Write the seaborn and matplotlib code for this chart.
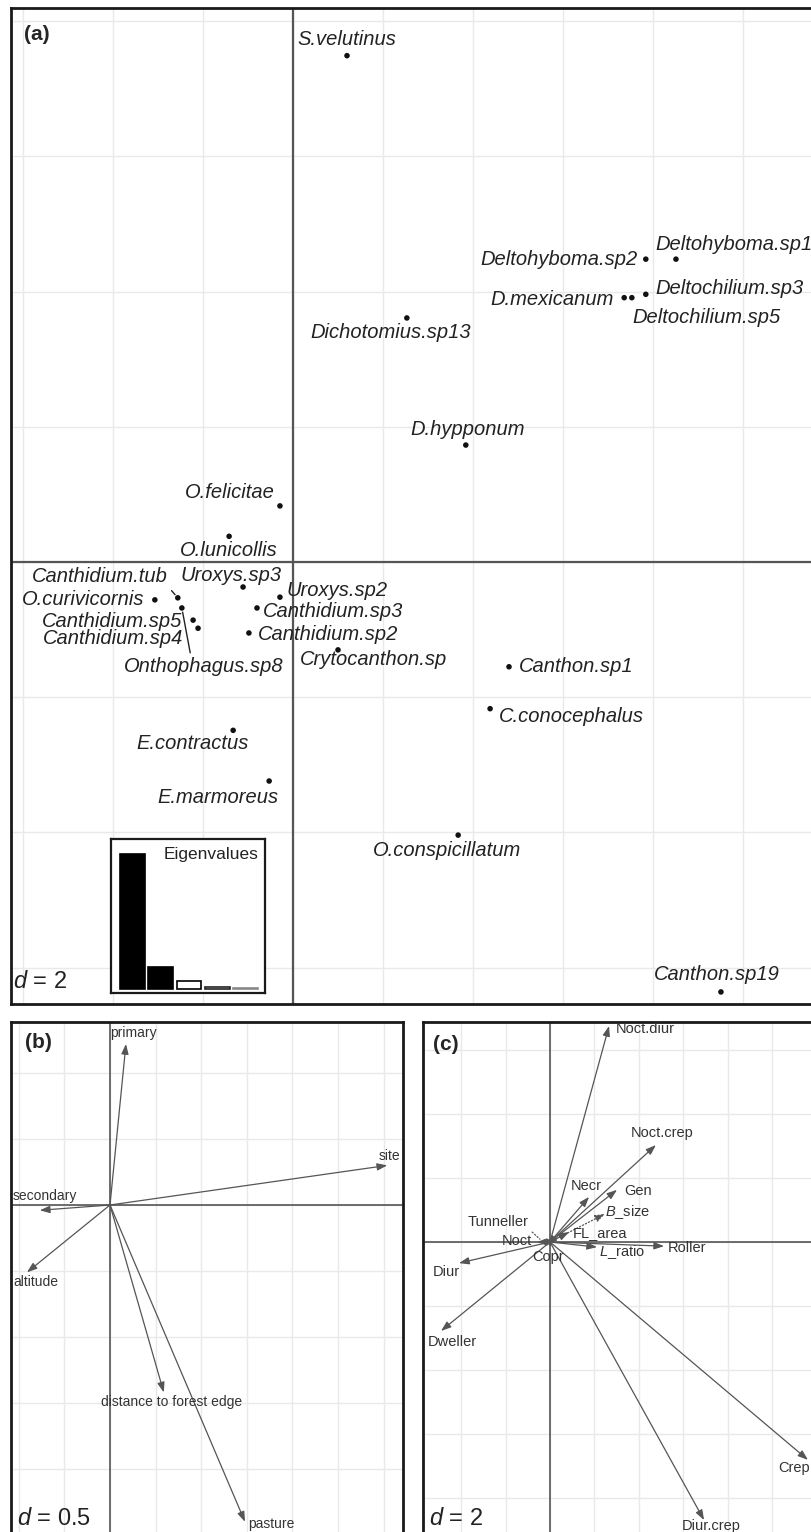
import matplotlib
matplotlib.use("Agg")
import matplotlib.pyplot as plt
import seaborn as sns
import pandas as pd
import numpy as np

sns.set_style("white")
plt.rcParams["font.family"] = ["Liberation Sans", "DejaVu Sans"]
plt.rcParams["mathtext.fontset"] = "custom"
plt.rcParams["mathtext.it"] = "Liberation Sans:italic"
plt.rcParams["mathtext.rm"] = "Liberation Sans"

# ---------------- data ----------------
species = ["S.velutinus", "Deltohyboma.sp1", "Deltohyboma.sp2", "Deltochilium.sp3",
           "D.mexicanum", "Deltochilium.sp5", "Dichotomius.sp13", "O.felicitae",
           "D.hypponum", "O.lunicollis", "Canthidium.tub", "Uroxys.sp3", "Uroxys.sp2",
           "O.curivicornis", "Onthophagus.sp8", "Canthidium.sp5", "Canthidium.sp4",
           "Canthidium.sp3", "Canthidium.sp2", "Crytocanthon.sp", "Canthon.sp1",
           "C.conocephalus", "E.contractus", "E.marmoreus", "O.conspicillatum",
           "Canthon.sp19"]
sp_x = [1.20, 8.51, 7.84, 7.84, 7.36, 7.53, 2.53, -0.29, 3.84, -1.42, -2.56, -1.11,
        -0.29, -3.07, -2.47, -2.22, -2.11, -0.80, -0.98, 1.00, 4.80, 4.38, -1.33,
        -0.53, 3.67, 9.51]
sp_y = [7.49, 4.48, 4.48, 3.96, 3.91, 3.91, 3.61, 0.83, 1.73, 0.38, -0.53, -0.37,
        -0.52, -0.56, -0.68, -0.86, -0.98, -0.68, -1.05, -1.30, -1.55, -2.17, -2.49,
        -3.24, -4.04, -6.36]

eigenvalues = [1.0, 0.163, 0.06, 0.012, 0.006]

env_vars = ["primary", "site", "secondary", "altitude", "distance to forest edge", "pasture"]
env_x = [0.175, 3.04, -0.77, -0.91, 0.59, 1.48]
env_y = [1.22, 0.30, -0.04, -0.51, -1.42, -2.40]

trait_vars = ["Noct.diur", "Noct.crep", "Necr", "Gen", "$B$_size", "FL_area", "$L$_ratio",
              "Roller", "Tunneller", "Noct", "Copr", "Diur", "Dweller", "Crep", "Diur.crep"]
trait_x = [2.66, 4.77, 1.76, 3.02, 2.48, 0.86, 2.12, 5.14, -0.41, -0.59, -0.14, -4.10,
           -4.91, 11.62, 6.94]
trait_y = [6.75, 3.03, 1.41, 1.63, 0.88, 0.31, -0.16, -0.13, 0.06, 0.0, -0.09, -0.66,
           -2.78, -6.81, -8.69]
trait_dotted = [False, False, False, False, True, False, False, False, True, False,
                False, False, False, False, False]

# ---------------- style: label offsets (pixels) ----------------
sp_lab = {
    "S.velutinus": (0, 16, "center"), "Deltohyboma.sp1": (-21, 15, "left"),
    "Deltohyboma.sp2": (-8, 0, "right"), "Deltochilium.sp3": (10, 6, "left"),
    "D.mexicanum": (-10, -2, "right"), "Deltochilium.sp5": (1, -20, "left"),
    "Dichotomius.sp13": (-16, -15, "center"), "O.felicitae": (-5, 13, "right"),
    "D.hypponum": (2, 16, "center"), "O.lunicollis": (0, -14, "center"),
    "Canthidium.tub": (-10, 21, "right"), "Uroxys.sp3": (-12, 12, "center"),
    "Uroxys.sp2": (7, 7, "left"), "O.curivicornis": (-10, 0, "right"),
    "Onthophagus.sp8": (22, -59, "center"), "Canthidium.sp5": (-11, -1, "right"),
    "Canthidium.sp4": (-15, -10, "right"), "Canthidium.sp3": (6, -4, "left"),
    "Canthidium.sp2": (9, -2, "left"), "Crytocanthon.sp": (-38, -10, "left"),
    "Canthon.sp1": (10, 0, "left"), "C.conocephalus": (9, -8, "left"),
    "E.contractus": (-41, -13, "center"), "E.marmoreus": (-51, -16, "center"),
    "O.conspicillatum": (-11, -15, "center"), "Canthon.sp19": (-4, 17, "center"),
}
sp_leader = {"Canthidium.tub": (1, 0), "Onthophagus.sp8": (0.42, 1)}

env_lab = {"primary": (-16, 11, "left"), "site": (13, 9, "right"),
           "secondary": (-27, 14, "left"), "altitude": (-14, -10, "left"),
           "distance to forest edge": (8, -10, "center"), "pasture": (3, -2, "left")}

trait_lab = {"Noct.diur": (7, -3, "left"), "Noct.crep": (-25, 12, "left"),
             "Necr": (-3, 11, "center"), "Gen": (7, -1, "left"),
             "$B$_size": (0, 2, "left"), "FL_area": (4, -1, "left"),
             "$L$_ratio": (2, -5, "left"), "Roller": (4, -2, "left"),
             "Tunneller": (-12, 18, "right"), "Noct": (-5, 1, "right"),
             "Copr": (1, -12, "center"), "Diur": (-13, -9, "center"),
             "Dweller": (11, -11, "center"), "Crep": (2, -8, "right"),
             "Diur.crep": (7, -6, "center")}

W, H = 812, 1532
fig = plt.figure(figsize=(W / 100, H / 100), dpi=100)
fig.patch.set_facecolor("white")


def add_ax(l, r, t, b):
    return fig.add_axes([l / W, 1 - b / H, (r - l) / W, (b - t) / H])


def frame(ax, xlim, ylim, step, axis_lw):
    ax.set_xlim(*xlim)
    ax.set_ylim(*ylim)
    ax.set_xticks(np.arange(np.ceil(xlim[0] / step) * step, xlim[1], step))
    ax.set_yticks(np.arange(np.ceil(ylim[0] / step) * step, ylim[1], step))
    ax.tick_params(length=0, labelbottom=False, labelleft=False)
    ax.grid(True, color="#e9e9e9", lw=1.0, zorder=0)
    ax.set_axisbelow(True)
    ax.axhline(0, color="#555555", lw=axis_lw, zorder=1)
    ax.axvline(0, color="#555555", lw=axis_lw, zorder=1)
    for s in ax.spines.values():
        s.set_color("#1a1a1a")
        s.set_linewidth(2)
    ax.set_xlabel("")
    ax.set_ylabel("")


# ---------------- panel (a) ----------------
ax_a = add_ax(11, 830, 8, 1004)
frame(ax_a, ((11 - 293) / 45, (830 - 293) / 45), ((562 - 1004) / 67.6, (562 - 8) / 67.6), 2, 1.6)
df_sp = pd.DataFrame({"species": species, "x": sp_x, "y": sp_y})
sns.scatterplot(data=df_sp, x="x", y="y", ax=ax_a, color="#111111", s=16,
                edgecolor="none", legend=False, zorder=3)
ax_a.set_xlabel("")
ax_a.set_ylabel("")
for name, x, y in zip(species, sp_x, sp_y):
    dx, dy, ha = sp_lab[name]
    kw = {}
    if name in sp_leader:
        kw["arrowprops"] = dict(arrowstyle="-", color="#222222", lw=1.0,
                                shrinkA=1, shrinkB=3, relpos=sp_leader[name])
    ax_a.annotate(name, (x, y), xytext=(dx, dy), textcoords="offset pixels",
                  ha=ha, va="center", fontsize=14.5, style="italic", color="#222222",
                  zorder=4, **kw)
ax_a.text(0.003, 0.022, "$d$ = 2", transform=ax_a.transAxes,
          fontsize=17, color="#222222", ha="left", va="center")

ax_e = add_ax(111, 265, 839, 993)
sns.barplot(x=list(range(len(eigenvalues))), y=eigenvalues, ax=ax_e, color="black",
            width=0.88, saturation=1)
faces = ["black", "black", "white", "white", "white"]
edges = ["black", "black", "black", "#222222", "#888888"]
for p, fc, ec in zip(ax_e.patches, faces, edges):
    p.set_facecolor(fc)
    p.set_edgecolor(ec)
    p.set_linewidth(1.2)
ax_e.set_xlim(-0.77, 4.70)
ax_e.set_ylim(-0.03, 1.11)
ax_e.set_xticks([])
ax_e.set_yticks([])
ax_e.set_xlabel("")
ax_e.set_ylabel("")
ax_e.set_facecolor("white")
for s in ax_e.spines.values():
    s.set_color("#1a1a1a")
    s.set_linewidth(1.6)
ax_e.text(0.96, 0.9, "Eigenvalues", transform=ax_e.transAxes, ha="right", va="center",
          fontsize=12.5, color="#222222")

fig.text(24 / W, 1 - 34 / H, "(a)", fontsize=15, fontweight="bold", ha="left", va="center")

# ---------------- panel (b) ----------------
ax_b = add_ax(11, 403, 1022, 1545)
frame(ax_b, ((11 - 110) / 91.2, (403 - 110) / 91.2), ((1205 - 1545) / 132, (1205 - 1022) / 132), 0.5, 1.2)
for name, x, y in zip(env_vars, env_x, env_y):
    ax_b.annotate("", xy=(x, y), xytext=(0, 0),
                  arrowprops=dict(arrowstyle="-|>,head_length=0.5,head_width=0.18",
                                  color="#555555", lw=0.9, shrinkA=0, shrinkB=0,
                                  mutation_scale=12), zorder=3)
    dx, dy, ha = env_lab[name]
    ax_b.annotate(name, (x, y), xytext=(dx, dy), textcoords="offset pixels", ha=ha,
                  va="center", fontsize=10, color="#333333", zorder=4)
ax_b.text(0.015, 0.05, "$d$ = 0.5", transform=ax_b.transAxes, fontsize=17,
          color="#222222", ha="left", va="center")
fig.text(25 / W, 1 - 1042 / H, "(b)", fontsize=15, fontweight="bold", ha="left", va="center")

# ---------------- panel (c) ----------------
ax_c = add_ax(423, 830, 1022, 1545)
frame(ax_c, ((423 - 550) / 22.2, (830 - 550) / 22.2), ((1242 - 1545) / 32, (1242 - 1022) / 32), 2, 1.2)
for name, x, y, dot in zip(trait_vars, trait_x, trait_y, trait_dotted):
    ax_c.annotate("", xy=(x, y), xytext=(0, 0),
                  arrowprops=dict(arrowstyle="-|>,head_length=0.5,head_width=0.18",
                                  color="#555555", lw=0.9, shrinkA=0, shrinkB=0,
                                  mutation_scale=12, linestyle=":" if dot else "-"),
                  zorder=3)
    dx, dy, ha = trait_lab[name]
    kw = {}
    if name == "Tunneller":
        kw["arrowprops"] = dict(arrowstyle="-", color="#555555", lw=0.9, linestyle=":",
                                shrinkA=0, shrinkB=1, relpos=(1, 0))
    ax_c.annotate(name, (x, y), xytext=(dx, dy), textcoords="offset pixels", ha=ha,
                  va="center", fontsize=10.5, color="#333333", zorder=4, **kw)
ax_c.text(0.015, 0.05, "$d$ = 2", transform=ax_c.transAxes, fontsize=17,
          color="#222222", ha="left", va="center")
fig.text(433 / W, 1 - 1045 / H, "(c)", fontsize=15, fontweight="bold", ha="left", va="center")

fig.savefig("out.png", dpi=100, facecolor="white")
